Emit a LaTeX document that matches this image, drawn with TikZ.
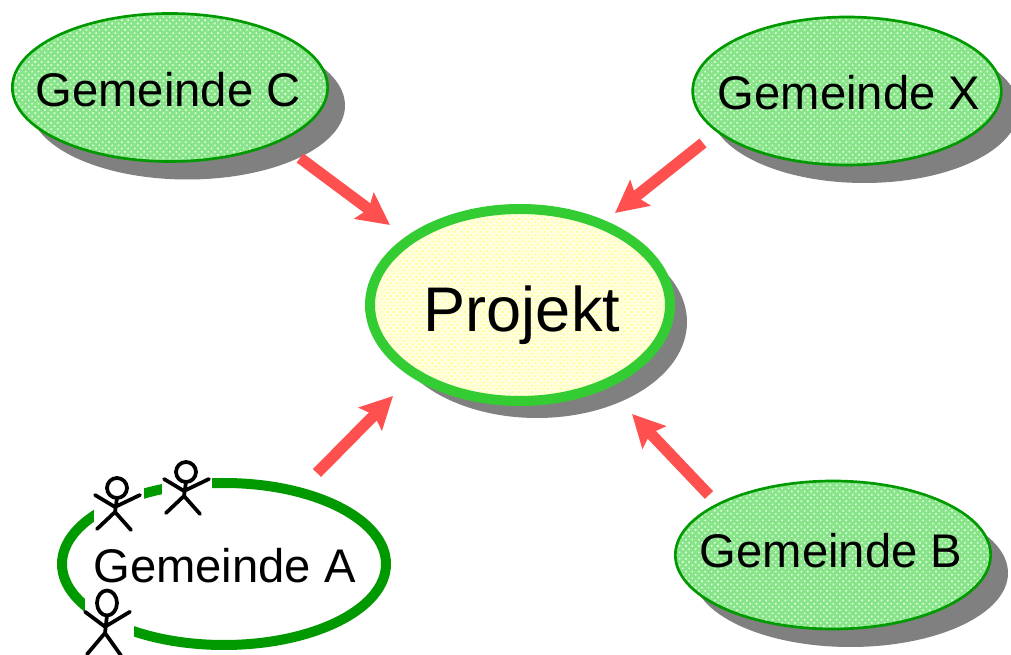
\documentclass[tikz,border=0pt]{standalone}
\usepackage{fontspec}
\setmainfont{Liberation Sans}
\usetikzlibrary{shapes.geometric,shadows,patterns.meta,arrows.meta}

\definecolor{gemgreen}{HTML}{009900}
\definecolor{gemfill}{HTML}{88E488}
\definecolor{gemdots}{HTML}{E4FFE4}
\definecolor{projgreen}{HTML}{33CC33}
\definecolor{projfill}{HTML}{FFFFE0}
\definecolor{projdots}{HTML}{FFFF80}
\definecolor{arrowred}{HTML}{FF5050}

\tikzset{
  x=0.75pt,y=-0.75pt,
  gemeinde/.style={ellipse,draw=gemgreen,line width=2pt,inner sep=0pt,
    minimum width=236.5pt,minimum height=111pt,
    drop shadow={shadow xshift=13pt,shadow yshift=-13.5pt,fill=black!50,opacity=1},
    preaction={fill=gemfill},
    pattern={Dots[radius=0.85pt,distance=3.4pt,angle=45]},pattern color=gemdots},
  projekt/.style={ellipse,draw=projgreen,line width=7.5pt,inner sep=0pt,
    minimum width=225pt,minimum height=144pt,
    drop shadow={shadow xshift=12.75pt,shadow yshift=-12.75pt,fill=black!50,opacity=1},
    preaction={fill=projfill},
    pattern={Dots[radius=0.85pt,distance=3.4pt,angle=45]},pattern color=projdots},
  eigene/.style={ellipse,draw=gemgreen,line width=7.5pt,inner sep=0pt,
    minimum width=243pt,minimum height=121.5pt},
  schrift/.style={anchor=base,inner sep=0pt,font=\fontsize{35.4}{36}\selectfont},
  pfeil/.style={draw=arrowred,line width=8.5pt,
    -{Stealth[length=24pt,width=24pt,inset=4pt]}},
  figur/.pic={
    \draw[line width=2.8pt,line cap=round,line join=round]
      (0,0) circle[x radius=10,y radius=10]
      (0,10) -- (-2,24)
      (-22,7) -- (-2,19) -- (23,7)
      (-20,41) -- (-2,24) -- (14,42);
  },
}

\begin{document}
\begin{tikzpicture}
  \useasboundingbox (0,0) rectangle (1011,655);

  % Gemeinden
  \node[gemeinde] (gemc) at (170,87.5) {};
  \node[gemeinde,minimum width=231.5pt] (gemx) at (847,91) {};
  \node[gemeinde] (gemb) at (833,555) {};
  \node[eigene] (gema) at (224,564) {};

  % Mitte
  \node[projekt] (proj) at (520,305) {};

  % Schrift
  \node[schrift] (txtc) at (168,107) {Gemeinde C};
  \node[schrift] (txtx) at (849,110) {Gemeinde X};
  \node[schrift] (txtb) at (831,568) {Gemeinde B};
  \node[schrift] (txta) at (224.5,583) {Gemeinde A};
  \node[schrift,font=\fontsize{47.3}{48}\selectfont] (txtp) at (522,332) {Projekt};

  % Pfeile
  \coordinate (cstart) at (300,158);
  \coordinate (cend) at (390,225);
  \coordinate (xstart) at (703,143);
  \coordinate (xend) at (615,213);
  \coordinate (astart) at (317,473);
  \coordinate (aend) at (393,396);
  \coordinate (bstart) at (709,495);
  \coordinate (bend) at (632,414);
  \draw[pfeil] (cstart) -- (cend);
  \draw[pfeil] (xstart) -- (xend);
  \draw[pfeil] (astart) -- (aend);
  \draw[pfeil] (bstart) -- (bend);

  % Figuren
  \fill[white] (94,470) rectangle (144,530);
  \fill[white] (162,455) rectangle (212,520);
  \fill[white] (85,590) rectangle (134,655);
  \pic at (117,488) {figur};
  \pic at (186,472) {figur};
  \pic[yscale=1.25] at (107,603) {figur};
\end{tikzpicture}
\end{document}
